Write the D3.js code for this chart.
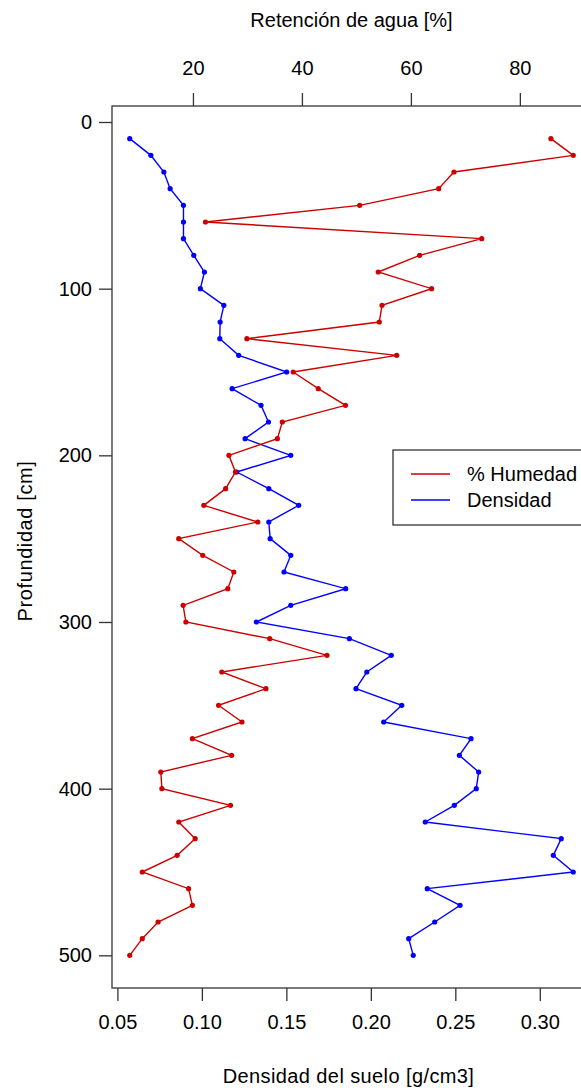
<!DOCTYPE html>
<html>
<head>
<meta charset="utf-8">
<script src="https://cdn.jsdelivr.net/npm/d3@7"></script>
<style>
    body { margin: 0; background: #fff; }
    text { font-family: "Liberation Sans", Arial, sans-serif; fill: #000; }
</style>
</head>
<body>
<svg width="581" height="1088"></svg>
<script>
// depth of every sample (cm)
var depth = [10, 20, 30, 40, 50, 60, 70, 80, 90, 100,
    110, 120, 130, 140, 150, 160, 170, 180, 190, 200,
    210, 220, 230, 240, 250, 260, 270, 280, 290, 300,
    310, 320, 330, 340, 350, 360, 370, 380, 390, 400,
    410, 420, 430, 440, 450, 460, 470, 480, 490, 500];

// water retention (%), top axis
var humedad = [85.7, 89.8, 67.9, 65.1, 50.6, 22.3, 73.0, 61.6, 54.0, 63.8,
    54.7, 54.2, 29.9, 57.4, 38.4, 43.0, 48.0, 36.4, 35.5, 26.6,
    27.8, 26.0, 22.0, 31.9, 17.4, 21.8, 27.5, 26.4, 18.2, 18.7,
    34.1, 44.6, 25.3, 33.4, 24.7, 29.0, 19.9, 27.1, 14.1, 14.3,
    26.9, 17.4, 20.4, 17.1, 10.7, 19.2, 19.9, 13.6, 10.7, 8.4];

// soil density (g/cm3), bottom axis
var densidad = [0.0573, 0.0698, 0.0775, 0.0812, 0.0891, 0.0891, 0.0891, 0.0952, 0.1015, 0.0991,
    0.1130, 0.1108, 0.1106, 0.1218, 0.1502, 0.1179, 0.1350, 0.1394, 0.1256, 0.1526,
    0.1206, 0.1396, 0.1573, 0.1396, 0.1404, 0.1526, 0.1486, 0.1851, 0.1526, 0.1322,
    0.1873, 0.2121, 0.1976, 0.1912, 0.2183, 0.2076, 0.2593, 0.2524, 0.2638, 0.2624,
    0.2494, 0.2322, 0.3127, 0.3080, 0.3198, 0.2334, 0.2528, 0.2378, 0.2224, 0.2251];

var depthTicks = [0, 100, 200, 300, 400, 500];
var humedadTicks = [20, 40, 60, 80];
var densidadTicks = [0.05, 0.10, 0.15, 0.20, 0.25, 0.30];

var seriesNames = ['% Humedad', 'Densidad'];
var seriesColors = ['#cd0000', '#0000ff'];

var svg = d3.select('svg');

// plot region (right edge falls outside the picture)
var box = { l: 112, r: 591, t: 106, b: 988 };
var midX = (box.l + box.r) / 2;

// R style axis limits: data range plus 4%
function padded(arr) {
    var e = d3.extent(arr);
    var p = (e[1] - e[0]) * 0.04;
    return [e[0] - p, e[1] + p];
}

var yScale = d3.scaleLinear().domain(padded(depth)).range([box.t, box.b]);
var xDens = d3.scaleLinear().domain(padded(densidad)).range([box.l, box.r]);
var xHum = d3.scaleLinear().domain(padded(humedad)).range([box.l, box.r]);

var fontSize = 20;

// axes
var leftAxis = svg.append('g')
    .attr('transform', 'translate(' + box.l + ',0)')
    .call(d3.axisLeft(yScale).tickValues(depthTicks).tickSize(13).tickPadding(7).tickFormat(d3.format('d')));

var bottomAxis = svg.append('g')
    .attr('transform', 'translate(0,' + box.b + ')')
    .call(d3.axisBottom(xDens).tickValues(densidadTicks).tickSize(13).tickPadding(14).tickFormat(d3.format('.2f')));

var topAxis = svg.append('g')
    .attr('transform', 'translate(0,' + box.t + ')')
    .call(d3.axisTop(xHum).tickValues(humedadTicks).tickSize(13).tickPadding(18).tickFormat(d3.format('d')));

[leftAxis, bottomAxis, topAxis].forEach(function(g) {
    g.select('.domain').remove();
    g.selectAll('line').attr('stroke', '#333').attr('stroke-width', 1.3);
    g.selectAll('text')
        .style('font-family', '"Liberation Sans", Arial, sans-serif')
        .style('font-size', fontSize + 'px')
        .attr('fill', '#000');
});

// frame
svg.append('rect')
    .attr('x', box.l).attr('y', box.t)
    .attr('width', box.r - box.l).attr('height', box.b - box.t)
    .attr('fill', 'none').attr('stroke', '#333').attr('stroke-width', 1.3);

// axis titles
svg.append('text')
    .attr('x', midX)
    .attr('y', 27)
    .attr('text-anchor', 'middle')
    .style('font-size', fontSize + 'px')
    .text('Retención de agua [%]');

svg.append('text')
    .attr('x', midX - 3)
    .attr('y', 1083)
    .attr('text-anchor', 'middle')
    .style('font-size', fontSize + 'px')
    .style('letter-spacing', '0.4px')
    .text('Densidad del suelo [g/cm3]');

svg.append('text')
    .attr('transform', 'translate(32,' + ((box.t + box.b) / 2 - 6) + ') rotate(-90)')
    .attr('text-anchor', 'middle')
    .style('font-size', fontSize + 'px')
    .style('letter-spacing', '0.6px')
    .text('Profundidad [cm]');

// data series
var densData = depth.map(function(d, i) { return { depth: d, v: densidad[i] }; });
var humData = depth.map(function(d, i) { return { depth: d, v: humedad[i] }; });

function drawSeries(data, xScale, color) {
    var line = d3.line()
        .x(function(d) { return xScale(d.v); })
        .y(function(d) { return yScale(d.depth); });
    svg.append('path')
        .datum(data)
        .attr('d', line)
        .attr('fill', 'none')
        .attr('stroke', color)
        .attr('stroke-width', 1.4);
    svg.append('g').selectAll('circle')
        .data(data)
        .enter()
        .append('circle')
        .attr('cx', function(d) { return xScale(d.v); })
        .attr('cy', function(d) { return yScale(d.depth); })
        .attr('r', 2.6)
        .attr('fill', color);
}

drawSeries(densData, xDens, seriesColors[1]);
drawSeries(humData, xHum, seriesColors[0]);

// legend
var legend = svg.append('g');
legend.append('rect')
    .attr('x', 393).attr('y', 450)
    .attr('width', 220).attr('height', 75)
    .attr('fill', '#fff').attr('stroke', '#333').attr('stroke-width', 1.3);

var legendItem = legend.selectAll('.item')
    .data(seriesNames)
    .enter()
    .append('g')
    .attr('class', 'item')
    .attr('transform', function(d, i) { return 'translate(411,' + (474 + i * 26) + ')'; });

legendItem.append('line')
    .attr('x1', 0).attr('x2', 39)
    .attr('stroke', function(d, i) { return seriesColors[i]; })
    .attr('stroke-width', 1.4);

legendItem.append('text')
    .attr('x', 56)
    .attr('dy', '0.36em')
    .style('font-size', fontSize + 'px')
    .text(function(d) { return d; });
</script>
</body>
</html>
